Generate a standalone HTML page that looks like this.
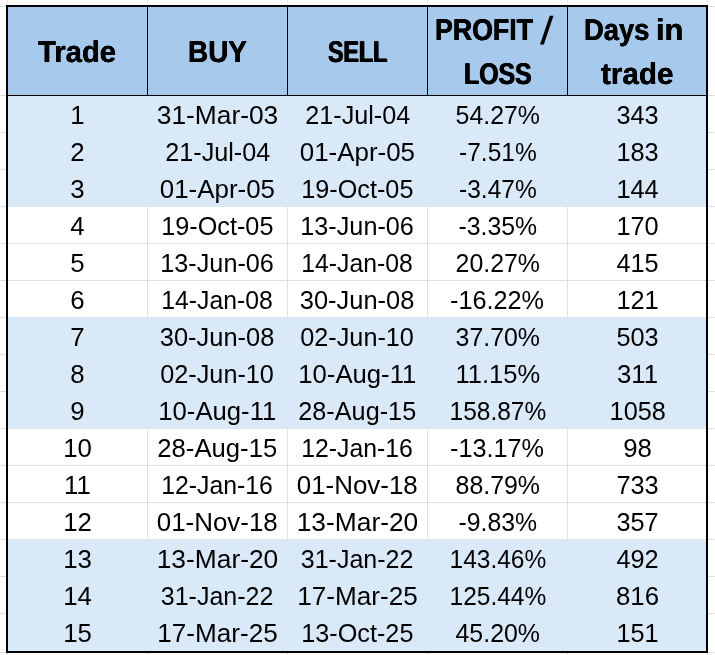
<!DOCTYPE html>
<html lang="en"><head><meta charset="utf-8"><title>Trades</title>
<style>
html,body{margin:0;padding:0;background:#fff;}
body{width:715px;height:655px;position:relative;overflow:hidden;font-family:"Liberation Sans",sans-serif;color:#000;}
.g{position:absolute;background:#dfdfdf;}
.frame{position:absolute;left:6px;top:5px;width:698px;height:644px;border:2px solid #000;}
.hd{position:absolute;left:8px;top:7px;width:698px;height:88px;background:#a6c9ec;border-bottom:1px solid #000;}
.vl{position:absolute;top:7px;width:1px;height:89px;background:#000;}
.band{position:absolute;left:8px;width:698px;height:111px;background:#dae9f8;}
.r{position:absolute;left:8px;width:700px;height:37px;white-space:nowrap;}
.r span{position:absolute;top:0;width:139px;height:37px;line-height:37px;text-align:center;font-size:25.8px;}
.c0{left:0}.c1{left:140px}.c2{left:280px}.c3{left:420px}.c4{left:560px}
.h{position:absolute;text-rendering:geometricPrecision;font-weight:bold;font-size:30.1px;line-height:44px;white-space:nowrap;transform-origin:0 50%;}
.sl{font-size:39px;font-weight:normal;}
.r b{display:inline-block;font-weight:normal;}
</style></head><body>
<div class="g" style="left:0;top:6px;width:6px;height:1px"></div>
<div class="g" style="left:708px;top:6px;width:7px;height:1px"></div>
<div class="g" style="left:0;top:95px;width:6px;height:1px"></div>
<div class="g" style="left:708px;top:95px;width:7px;height:1px"></div>
<div class="g" style="left:0;top:132px;width:6px;height:1px"></div>
<div class="g" style="left:708px;top:132px;width:7px;height:1px"></div>
<div class="g" style="left:0;top:169px;width:6px;height:1px"></div>
<div class="g" style="left:708px;top:169px;width:7px;height:1px"></div>
<div class="g" style="left:0;top:206px;width:6px;height:1px"></div>
<div class="g" style="left:708px;top:206px;width:7px;height:1px"></div>
<div class="g" style="left:0;top:243px;width:6px;height:1px"></div>
<div class="g" style="left:708px;top:243px;width:7px;height:1px"></div>
<div class="g" style="left:0;top:280px;width:6px;height:1px"></div>
<div class="g" style="left:708px;top:280px;width:7px;height:1px"></div>
<div class="g" style="left:0;top:317px;width:6px;height:1px"></div>
<div class="g" style="left:708px;top:317px;width:7px;height:1px"></div>
<div class="g" style="left:0;top:354px;width:6px;height:1px"></div>
<div class="g" style="left:708px;top:354px;width:7px;height:1px"></div>
<div class="g" style="left:0;top:391px;width:6px;height:1px"></div>
<div class="g" style="left:708px;top:391px;width:7px;height:1px"></div>
<div class="g" style="left:0;top:428px;width:6px;height:1px"></div>
<div class="g" style="left:708px;top:428px;width:7px;height:1px"></div>
<div class="g" style="left:0;top:465px;width:6px;height:1px"></div>
<div class="g" style="left:708px;top:465px;width:7px;height:1px"></div>
<div class="g" style="left:0;top:502px;width:6px;height:1px"></div>
<div class="g" style="left:708px;top:502px;width:7px;height:1px"></div>
<div class="g" style="left:0;top:539px;width:6px;height:1px"></div>
<div class="g" style="left:708px;top:539px;width:7px;height:1px"></div>
<div class="g" style="left:0;top:576px;width:6px;height:1px"></div>
<div class="g" style="left:708px;top:576px;width:7px;height:1px"></div>
<div class="g" style="left:0;top:613px;width:6px;height:1px"></div>
<div class="g" style="left:708px;top:613px;width:7px;height:1px"></div>
<div class="g" style="left:0;top:652px;width:6px;height:1px"></div>
<div class="g" style="left:708px;top:652px;width:7px;height:1px"></div>
<div class="g" style="left:7px;top:0;width:1px;height:5px;background:#ececec"></div>
<div class="g" style="left:7px;top:653px;width:1px;height:2px"></div>
<div class="g" style="left:147px;top:0;width:1px;height:5px;background:#ececec"></div>
<div class="g" style="left:147px;top:653px;width:1px;height:2px"></div>
<div class="g" style="left:287px;top:0;width:1px;height:5px;background:#ececec"></div>
<div class="g" style="left:287px;top:653px;width:1px;height:2px"></div>
<div class="g" style="left:427px;top:0;width:1px;height:5px;background:#ececec"></div>
<div class="g" style="left:427px;top:653px;width:1px;height:2px"></div>
<div class="g" style="left:567px;top:0;width:1px;height:5px;background:#ececec"></div>
<div class="g" style="left:567px;top:653px;width:1px;height:2px"></div>
<div class="g" style="left:707px;top:0;width:1px;height:5px;background:#ececec"></div>
<div class="g" style="left:707px;top:653px;width:1px;height:2px"></div>
<div class="band" style="top:96px;height:111px"></div>
<div class="band" style="top:317px;height:112px"></div>
<div class="band" style="top:539px;height:112px"></div>
<div class="g" style="left:8px;top:243px;width:698px;height:1px"></div>
<div class="g" style="left:8px;top:280px;width:698px;height:1px"></div>
<div class="g" style="left:147px;top:207px;width:1px;height:110px"></div>
<div class="g" style="left:287px;top:207px;width:1px;height:110px"></div>
<div class="g" style="left:427px;top:207px;width:1px;height:110px"></div>
<div class="g" style="left:567px;top:207px;width:1px;height:110px"></div>
<div class="g" style="left:8px;top:465px;width:698px;height:1px"></div>
<div class="g" style="left:8px;top:502px;width:698px;height:1px"></div>
<div class="g" style="left:147px;top:429px;width:1px;height:110px"></div>
<div class="g" style="left:287px;top:429px;width:1px;height:110px"></div>
<div class="g" style="left:427px;top:429px;width:1px;height:110px"></div>
<div class="g" style="left:567px;top:429px;width:1px;height:110px"></div>
<div class="hd"></div>
<div class="vl" style="left:147px"></div>
<div class="vl" style="left:287px"></div>
<div class="vl" style="left:427px"></div>
<div class="vl" style="left:567px"></div>
<div class="frame"></div>
<div class="h" style="left:38.1px;top:30px;transform:translateY(1px) scaleX(0.9725);text-shadow:0.2px 0 0 #000,-0.2px 0 0 #000">Trade</div>
<div class="h" style="left:187.84px;top:30px;transform:translateY(1px) scaleX(0.9279);text-shadow:0.3px 0 0 #000,-0.3px 0 0 #000">BUY</div>
<div class="h" style="left:327.7px;top:30px;transform:translateY(1px) scaleX(0.7701);text-shadow:0.76px 0 0 #000,-0.76px 0 0 #000">SELL</div>
<div class="h" style="left:434.51px;top:8px;transform:translateY(1px) scaleX(0.8882);text-shadow:0.4px 0 0 #000,-0.4px 0 0 #000">PROFIT</div>
<div class="h sl" style="left:539.6px;top:9px;transform:translateY(1px) scaleX(1.2455)">/</div>
<div class="h" style="left:464.38px;top:52px;transform:translateY(1px) scaleX(0.825);text-shadow:0.6px 0 0 #000,-0.6px 0 0 #000">LOSS</div>
<div class="h" style="left:583.78px;top:8px;transform:translateY(1px) scaleX(0.9087);text-shadow:0.33px 0 0 #000,-0.33px 0 0 #000">Days</div>
<div class="h" style="left:655.95px;top:8px;transform:translateY(1px) scaleX(1.0261);text-shadow:0.2px 0 0 #000,-0.2px 0 0 #000">in</div>
<div class="h" style="left:600.9px;top:52px;transform:translateY(1px) scaleX(0.9849);text-shadow:0.2px 0 0 #000,-0.2px 0 0 #000">trade</div>
<div class="r" style="top:97px"><span class="c0"><b style="transform:scaleX(1)">1</b></span><span class="c1"><b style="transform:scaleX(1.0214)">31-Mar-03</b></span><span class="c2"><b style="transform:scaleX(0.9764)">21-Jul-04</b></span><span class="c3"><b style="transform:scaleX(0.9647)">54.27%</b></span><span class="c4"><b style="transform:scaleX(0.98)">343</b></span></div>
<div class="r" style="top:134px"><span class="c0"><b style="transform:scaleX(1)">2</b></span><span class="c1"><b style="transform:scaleX(0.9764)">21-Jul-04</b></span><span class="c2"><b style="transform:scaleX(1.0044)">01-Apr-05</b></span><span class="c3"><b style="transform:scaleX(0.95)">-7.51%</b></span><span class="c4"><b style="transform:scaleX(0.98)">183</b></span></div>
<div class="r" style="top:171px"><span class="c0"><b style="transform:scaleX(1)">3</b></span><span class="c1"><b style="transform:scaleX(1.0044)">01-Apr-05</b></span><span class="c2"><b style="transform:scaleX(0.9777)">19-Oct-05</b></span><span class="c3"><b style="transform:scaleX(0.95)">-3.47%</b></span><span class="c4"><b style="transform:scaleX(0.98)">144</b></span></div>
<div class="r" style="top:208px"><span class="c0"><b style="transform:scaleX(1)">4</b></span><span class="c1"><b style="transform:scaleX(0.9777)">19-Oct-05</b></span><span class="c2"><b style="transform:scaleX(0.9779)">13-Jun-06</b></span><span class="c3"><b style="transform:scaleX(0.962)">-3.35%</b></span><span class="c4"><b style="transform:scaleX(0.98)">170</b></span></div>
<div class="r" style="top:245px"><span class="c0"><b style="transform:scaleX(1)">5</b></span><span class="c1"><b style="transform:scaleX(0.9779)">13-Jun-06</b></span><span class="c2"><b style="transform:scaleX(0.9602)">14-Jan-08</b></span><span class="c3"><b style="transform:scaleX(0.9647)">20.27%</b></span><span class="c4"><b style="transform:scaleX(0.98)">415</b></span></div>
<div class="r" style="top:282px"><span class="c0"><b style="transform:scaleX(1)">6</b></span><span class="c1"><b style="transform:scaleX(0.9602)">14-Jan-08</b></span><span class="c2"><b style="transform:scaleX(0.9867)">30-Jun-08</b></span><span class="c3"><b style="transform:scaleX(0.9785)">-16.22%</b></span><span class="c4"><b style="transform:scaleX(0.98)">121</b></span></div>
<div class="r" style="top:319px"><span class="c0"><b style="transform:scaleX(1)">7</b></span><span class="c1"><b style="transform:scaleX(0.9867)">30-Jun-08</b></span><span class="c2"><b style="transform:scaleX(0.9783)">02-Jun-10</b></span><span class="c3"><b style="transform:scaleX(0.9647)">37.70%</b></span><span class="c4"><b style="transform:scaleX(0.98)">503</b></span></div>
<div class="r" style="top:356px"><span class="c0"><b style="transform:scaleX(1)">8</b></span><span class="c1"><b style="transform:scaleX(0.9783)">02-Jun-10</b></span><span class="c2"><b style="transform:scaleX(0.9957)">10-Aug-11</b></span><span class="c3"><b style="transform:scaleX(0.9878)">11.15%</b></span><span class="c4"><b style="transform:scaleX(1)">311</b></span></div>
<div class="r" style="top:393px"><span class="c0"><b style="transform:scaleX(1)">9</b></span><span class="c1"><b style="transform:scaleX(0.9957)">10-Aug-11</b></span><span class="c2"><b style="transform:scaleX(0.979)">28-Aug-15</b></span><span class="c3"><b style="transform:scaleX(0.95)">158.87%</b></span><span class="c4"><b style="transform:scaleX(0.98)">1058</b></span></div>
<div class="r" style="top:430px"><span class="c0"><b style="transform:scaleX(1)">10</b></span><span class="c1"><b style="transform:scaleX(0.9957)">28-Aug-15</b></span><span class="c2"><b style="transform:scaleX(0.9602)">12-Jan-16</b></span><span class="c3"><b style="transform:scaleX(0.9785)">-13.17%</b></span><span class="c4"><b style="transform:scaleX(1)">98</b></span></div>
<div class="r" style="top:467px"><span class="c0"><b style="transform:scaleX(1)">11</b></span><span class="c1"><b style="transform:scaleX(0.9602)">12-Jan-16</b></span><span class="c2"><b style="transform:scaleX(1.0042)">01-Nov-18</b></span><span class="c3"><b style="transform:scaleX(0.9647)">88.79%</b></span><span class="c4"><b style="transform:scaleX(0.98)">733</b></span></div>
<div class="r" style="top:504px"><span class="c0"><b style="transform:scaleX(1)">12</b></span><span class="c1"><b style="transform:scaleX(1.0042)">01-Nov-18</b></span><span class="c2"><b style="transform:scaleX(1.0216)">13-Mar-20</b></span><span class="c3"><b style="transform:scaleX(0.962)">-9.83%</b></span><span class="c4"><b style="transform:scaleX(0.98)">357</b></span></div>
<div class="r" style="top:541px"><span class="c0"><b style="transform:scaleX(1)">13</b></span><span class="c1"><b style="transform:scaleX(1.0216)">13-Mar-20</b></span><span class="c2"><b style="transform:scaleX(0.969)">31-Jan-22</b></span><span class="c3"><b style="transform:scaleX(0.95)">143.46%</b></span><span class="c4"><b style="transform:scaleX(0.98)">492</b></span></div>
<div class="r" style="top:578px"><span class="c0"><b style="transform:scaleX(1)">14</b></span><span class="c1"><b style="transform:scaleX(0.969)">31-Jan-22</b></span><span class="c2"><b style="transform:scaleX(1.0129)">17-Mar-25</b></span><span class="c3"><b style="transform:scaleX(0.95)">125.44%</b></span><span class="c4"><b style="transform:scaleX(1)">816</b></span></div>
<div class="r" style="top:615px"><span class="c0"><b style="transform:scaleX(1)">15</b></span><span class="c1"><b style="transform:scaleX(1.0129)">17-Mar-25</b></span><span class="c2"><b style="transform:scaleX(0.9777)">13-Oct-25</b></span><span class="c3"><b style="transform:scaleX(0.9651)">45.20%</b></span><span class="c4"><b style="transform:scaleX(0.98)">151</b></span></div>
</body></html>
